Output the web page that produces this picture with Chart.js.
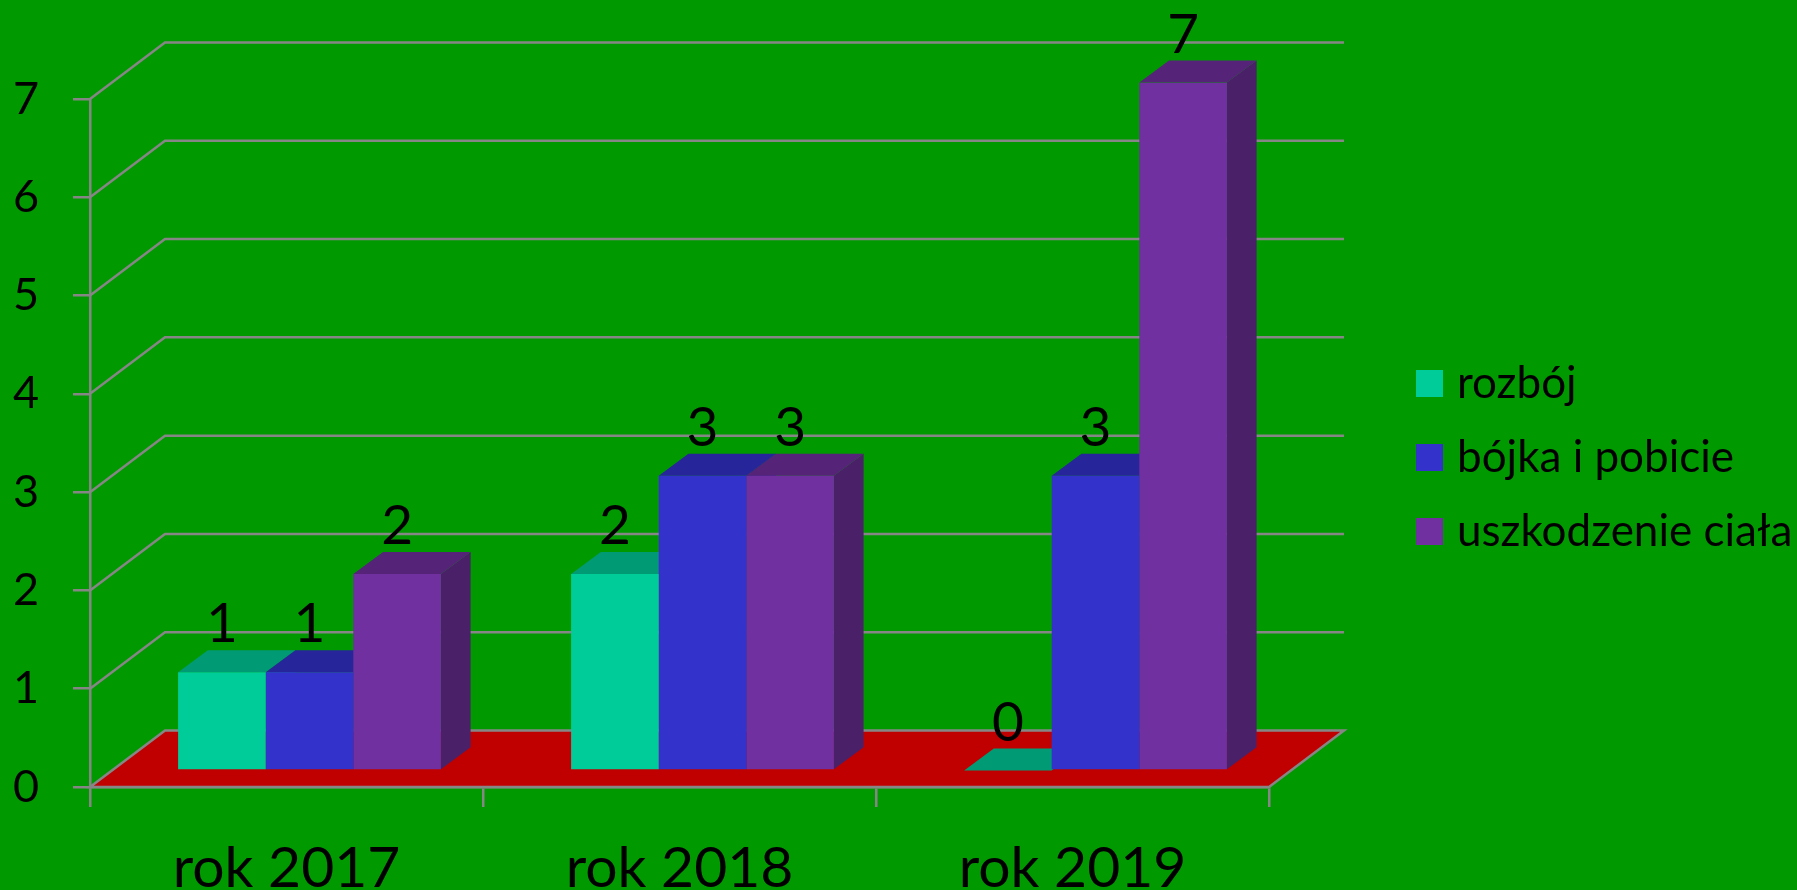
<!DOCTYPE html>
<html><head><meta charset="utf-8">
<style>html,body{margin:0;padding:0;background:#009900;overflow:hidden}canvas{display:block}</style>
<script src="https://cdn.jsdelivr.net/npm/chart.js@4"></script></head>
<body><canvas id="c" width="1797" height="890"></canvas>
<script>
const categories = ['rok 2017','rok 2018','rok 2019'];
const seriesNames = ['rozbój','bójka i pobicie','uszkodzenie ciała'];
const rozboj = [1,2,0];
const bojka = [1,3,3];
const uszkodzenie = [2,3,7];
const yTicks = [0,1,2,3,4,5,6,7];
const frontColors = ['#00CC99','#3333CC','#7030A0'];
const topColors = ['#009A74','#26269A','#552479'];
const sideColors = ['#009070','#222288','#4A2068'];
const FONT = 'Lato';
const GRID = '#868686';
const wallDX = 75, wallDY = 56.5;
const planeDX = 23, planeDY = 16.5;
const barDX = 29.7, barDY = 22;

function poly(ctx, pts, fill, stroke){
  ctx.beginPath();
  pts.forEach((p,i)=> i?ctx.lineTo(p[0],p[1]):ctx.moveTo(p[0],p[1]));
  ctx.closePath();
  if(fill){ctx.fillStyle=fill;ctx.fill();}
  if(stroke){ctx.strokeStyle=stroke;ctx.lineWidth=2.5;ctx.stroke();}
}
const scene = {
  id:'scene',
  afterLayout(chart){
    const l = chart.legend, w = l.width, h = l.height;
    l.left = 1394; l.right = 1394+w; l.top = 331.5; l.bottom = 331.5+h;
  },
  beforeDraw(chart){
    const {ctx,chartArea:a,scales:{x,y}} = chart;
    ctx.save();
    ctx.fillStyle='#009900';ctx.fillRect(0,0,chart.width,chart.height);
    const y0=y.getPixelForValue(0);
    poly(ctx,[[a.left,y0],[a.right,y0],[a.right+wallDX,y0-wallDY],[a.left+wallDX,y0-wallDY]],'#C00000',GRID);
    ctx.strokeStyle=GRID;ctx.lineWidth=2.5;
    yTicks.filter(v=>v>0).forEach(v=>{
      const p=y.getPixelForValue(v);
      ctx.beginPath();ctx.moveTo(a.left,p);ctx.lineTo(a.left+wallDX,p-wallDY);ctx.lineTo(a.right+wallDX,p-wallDY);ctx.stroke();
    });
    ctx.restore();
  },
  beforeDatasetsDraw(chart){
    const ctx=chart.ctx;
    ctx.save();
    ctx.translate(planeDX,-planeDY);
    const metas=chart.getSortedVisibleDatasetMetas();
    categories.forEach((c,i)=>{
      metas.forEach((m,d)=>{
        const e=m.data[i];
        const L=e.x-e.width/2,R=e.x+e.width/2,T=e.y,B=e.base;
        if(B-T>0.5) poly(ctx,[[R,T],[R+barDX,T-barDY],[R+barDX,B-barDY],[R,B]],sideColors[d]);
        poly(ctx,[[L,T],[R,T],[R+barDX,T-barDY],[L+barDX,T-barDY]],topColors[d]);
      });
    });
    // canvas stays translated so that the library's bars land on the front plane of the 3D boxes
  },
  afterDatasetsDraw(chart){
    const ctx=chart.ctx;
    ctx.fillStyle='#000';
    ctx.font='55px '+FONT;
    ctx.textAlign='center';ctx.textBaseline='alphabetic';
    chart.getSortedVisibleDatasetMetas().forEach((m,d)=>{
      m.data.forEach((e,i)=>{
        ctx.fillText(String(chart.data.datasets[d].data[i]),e.x,e.y-30);
      });
    });
    ctx.restore();
  }
};
new Chart(document.getElementById('c'),{
  type:'bar',
  plugins:[scene],
  data:{labels:categories,datasets:[
    {label:seriesNames[0],data:rozboj,backgroundColor:frontColors[0]},
    {label:seriesNames[1],data:bojka,backgroundColor:frontColors[1]},
    {label:seriesNames[2],data:uszkodzenie,backgroundColor:frontColors[2]}
  ]},
  options:{
    responsive:false,animation:false,
    layout:{padding:{left:0,top:99,right:528,bottom:0}},
    datasets:{bar:{categoryPercentage:0.6687,barPercentage:1,minBarLength:0}},
    plugins:{
      tooltip:{enabled:false},
      legend:{position:'chartArea',align:'start',
        labels:{color:'#000',font:{family:FONT,size:44},boxWidth:11,boxHeight:11,padding:30,
          generateLabels(chart){
            return Chart.defaults.plugins.legend.labels.generateLabels(chart).map(it=>Object.assign(it,{lineWidth:16,strokeStyle:it.fillStyle}));
          }}}
    },
    scales:{
      x:{afterFit(s){s.height=103;},
        grid:{drawOnChartArea:false,tickLength:20,tickColor:GRID,lineWidth:2.5},
        border:{color:GRID,width:2.5},
        ticks:{color:'#000',font:{family:FONT,size:57},padding:27,maxRotation:0}},
      y:{min:0,max:7,afterFit(s){s.width=90;},
        grid:{drawOnChartArea:false,tickLength:17,tickColor:GRID,lineWidth:2.5},
        border:{color:GRID,width:2.5},
        afterBuildTicks(s){s.ticks=yTicks.map(v=>({value:v}));},
        ticks:{color:'#000',font:{family:FONT,size:45},padding:34}}
    }
  }
});
</script></body></html>
